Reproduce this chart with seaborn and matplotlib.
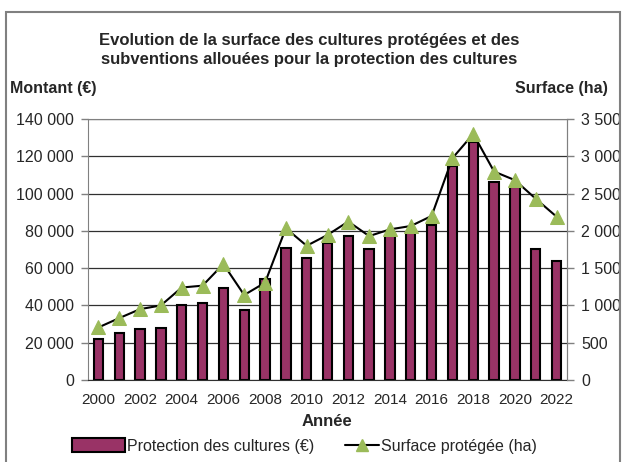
import numpy as np
import pandas as pd
import matplotlib
matplotlib.use("Agg")
import matplotlib.pyplot as plt
import seaborn as sns
from matplotlib.ticker import FuncFormatter, FixedLocator, MultipleLocator
from matplotlib.patches import Patch, Rectangle
from matplotlib.lines import Line2D

annees = list(range(2000, 2023))
montant = [21800, 25000, 27200, 27700, 40000, 41300, 49500, 37800, 54200, 70700, 65200,
           73300, 77000, 70400, 77900, 79300, 83200, 114900, 127400, 106200, 103300, 70400, 63800]
surface = [705, 830, 950, 1000, 1240, 1265, 1555, 1140, 1305, 2035, 1800,
           1945, 2125, 1930, 2020, 2065, 2200, 2975, 3300, 2795, 2680, 2430, 2190]

titre = "Evolution de la surface des cultures protégées et des\nsubventions allouées pour la protection des cultures"
label_gauche = "Montant (€)"
label_droite = "Surface (ha)"
label_x = "Année"
leg_barres = "Protection des cultures (€)"
leg_ligne = "Surface protégée (ha)"

bar_col = "#993366"
tri_col = "#9BBB59"

df = pd.DataFrame({"annee": [str(a) for a in annees], "montant": montant, "surface": surface})
df["pos"] = np.arange(len(df))

sns.set_style("white")
plt.rcParams["font.family"] = ["Liberation Sans Narrow", "Liberation Sans", "DejaVu Sans"]

fig = plt.figure(figsize=(6.27, 4.62), dpi=100)
ax = fig.add_axes([88 / 627, 1 - 380 / 462, (567 - 88) / 627, (380 - 119) / 462])

# barres : montant des subventions
sns.barplot(data=df, x="annee", y="montant", color=bar_col, saturation=1,
            edgecolor="black", linewidth=1.5, width=0.45, ax=ax)
ax.set_axisbelow(True)
ax.set_ylim(0, 140000)
ax.yaxis.set_major_locator(MultipleLocator(20000))
fmt = FuncFormatter(lambda v, p: f"{int(v):,}".replace(",", " "))
ax.yaxis.set_major_formatter(fmt)
ax.grid(axis="y", color="#303030", lw=0.9)
ax.set_xlim(-0.5, len(df) - 0.5)
ax.set_xticks(df["pos"][::2])
ax.set_xticklabels(df["annee"][::2])
ax.xaxis.set_minor_locator(FixedLocator(np.arange(-0.5, len(df), 1.0)))
ax.tick_params(axis="x", which="major", length=0, pad=9, labelsize=11)
ax.tick_params(axis="x", which="minor", length=5, width=1, color="#303030", direction="out")
ax.tick_params(axis="y", length=5, width=1, color="#808080", direction="out", labelsize=11.5, pad=5)
ax.set_xlabel("")
ax.set_ylabel("")
for s in ["left", "top", "right"]:
    ax.spines[s].set_color("#808080")
ax.spines["bottom"].set_color("#303030")

# ligne : surface protégée
ax2 = ax.twinx()
sns.lineplot(data=df, x="pos", y="surface", color="black", lw=1.5, marker="^", markersize=10,
             markerfacecolor=tri_col, markeredgecolor=tri_col, ax=ax2)
ax2.set_ylim(0, 3500)
ax2.yaxis.set_major_locator(MultipleLocator(500))
ax2.yaxis.set_major_formatter(fmt)
ax2.tick_params(axis="y", length=5, width=1, color="#808080", direction="out", labelsize=11.5, pad=5)
ax2.set_ylabel("")
ax2.set_xlabel("")
ax2.set_xlim(-0.5, len(df) - 0.5)
for s in ax2.spines.values():
    s.set_visible(False)
ax2.spines["right"].set_visible(True)
ax2.spines["right"].set_color("#808080")

fig.text(0.493, 1 - 50 / 462, titre, ha="center", va="center", fontsize=12,
         fontweight="bold", linespacing=1.4)
fig.text(10 / 627, 1 - 88 / 462, label_gauche, ha="left", va="center", fontsize=11.5, fontweight="bold")
fig.text(608 / 627, 1 - 88 / 462, label_droite, ha="right", va="center", fontsize=11.5, fontweight="bold")
fig.text(327 / 627, 1 - 421 / 462, label_x, ha="center", va="center", fontsize=12, fontweight="bold")

h_bar = Patch(facecolor=bar_col, edgecolor="black", linewidth=1.5)
h_line = Line2D([0], [0], color="black", lw=1.5, marker="^", markersize=8,
                markerfacecolor=tri_col, markeredgecolor=tri_col)
leg1 = fig.legend([h_bar], [leg_barres], loc="center left", bbox_to_anchor=(72 / 627, 1 - 446 / 462),
                  frameon=False, fontsize=11.5, handlelength=3.3, handletextpad=0.15,
                  borderpad=0, borderaxespad=0, handleheight=0.9)
fig.legend([h_line], [leg_ligne], loc="center left", bbox_to_anchor=(345 / 627, 1 - 446 / 462),
           frameon=False, fontsize=11.5, handlelength=2.1, handletextpad=0.15,
           borderpad=0, borderaxespad=0)

fig.patches.append(Rectangle((6 / 627, -0.1), (620 - 6) / 627, 0.1 + 1 - 12 / 462,
                             transform=fig.transFigure, fill=False, edgecolor="#808080", lw=1.5))

fig.savefig("out.png", dpi=100)
